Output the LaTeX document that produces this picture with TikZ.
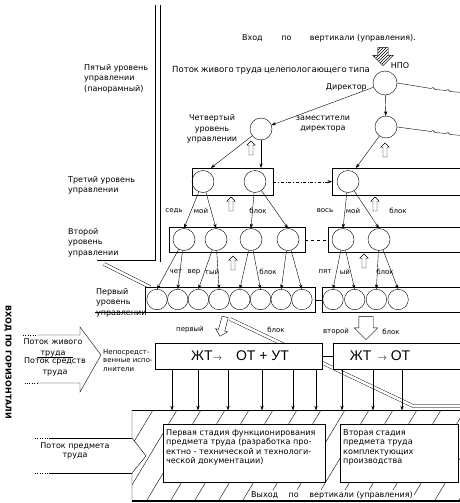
\documentclass[tikz,border=0pt]{standalone}
\usepackage{fontspec}
\setmainfont{DejaVu Sans}
\newfontfamily\boxfont{Liberation Sans}
\usetikzlibrary{shapes,shapes.arrows,arrows.meta,positioning,calc,patterns}

\begin{document}
\begin{tikzpicture}[
    x=1pt, y=-1pt,
    >={Stealth[length=4.5pt,width=3.2pt]},
    unitc/.style={circle, draw, minimum size=22pt, inner sep=0},
    cellc/.style={circle, draw, minimum size=20.5pt, inner sep=0},
    lvlbox/.style={draw, fill=white, inner sep=0, anchor=north west},
    lbl/.style={font=\fontsize{8}{10.5}\selectfont, inner sep=0},
    smalllbl/.style={font=\fontsize{7}{8.5}\selectfont, inner sep=0},
    upar/.style={single arrow, draw, fill=white, rotate=90, minimum height=14pt,
        inner sep=1.8pt, single arrow head extend=2.2pt},
    dnar/.style={single arrow, draw, fill=white},
    flow/.style={double, double distance=2.6pt},
    link/.style={->}
]
\useasboundingbox (0,0) rectangle (460,503);

    % Left panel
    \draw[thick] (155,5) -- (155,260) -- (97,260);
    \draw (160,5) -- (160,262);
    \draw[flow] (104,264) -- (150,287);

    % Top texts
    \node[lbl] (vin) at (329,38) {Вход \qquad по \qquad вертикали (управления).};
    \node[lbl, anchor=west, font=\fontsize{8.5}{10.5}\selectfont] (lflow) at (172,70)
        {\makebox[186pt][s]{Поток живого труда целепологающего типа}};
    \node[lbl, anchor=north west, align=left] (lev5) at (84,64) {Пятый уровень\\ управлении\\ (панорамный)};
    \node[single arrow, draw, rotate=-90, minimum height=18pt, inner sep=5pt,
        single arrow head extend=5pt, pattern=north east lines] (hin) at (383,54) {};
    \node[lbl] (npo) at (400,66) {НПО};

    % Fifth and fourth level
    \node[unitc, minimum size=24pt] (dir) at (385,83) {};
    \node[lbl, anchor=east] (dirlab) at (367,87) {Директор};
    \node[unitc] (dep) at (386,127) {};
    \node[lbl, align=center] (deplab) at (323,124) {заместители\\директора};
    \node[unitc] (fourth) at (261,129) {};
    \node[lbl, align=center] (lev4) at (212,129) {Четвертый\\уровень\\управлении};
    \draw[link] (dir) -- (fourth);
    \draw[link] (dir) -- (dep);
    \draw (dir.east) -- (431,88.5) -- (433,87.5) -- (435,89.5) -- (446,90.5) -- (448,89.5) -- (450,91.5) -- (462,92.5);
    \draw (dep.east) -- (431,131.5) -- (433,130.5) -- (435,132.5) -- (446,133.5) -- (448,132.5) -- (450,134.5) -- (462,135.5);
    \node[upar] (up4l) at (251,149) {};
    \node[upar] (up4r) at (385,151) {};

    % Third level
    \node[lbl, anchor=north west, align=left] (lev3) at (68,176) {Третий уровень\\ управлении};
    \node[lvlbox, minimum width=81pt, minimum height=27pt] (b3l) at (192,168) {};
    \node[lvlbox, minimum width=130pt, minimum height=27pt] (b3r) at (332,168) {};
    \node[unitc] (l3a) at (203,181.5) {};
    \node[unitc] (l3b) at (255,181.5) {};
    \node[unitc] (l3c) at (348,181.5) {};
    \draw[link] (fourth) -- (l3a.north east |- b3l.north);
    \draw[link] (fourth) -- (fourth |- b3l.north);
    \draw[link] (dep) -- (l3c.north east |- b3r.north);
    \draw[link, dash dot] (b3l.east) -- (b3r.west);

    % Second level
    \node[lbl, anchor=north west, align=left] (lev2) at (68,228) {Второй\\уровень\\управлении};
    \node[lvlbox, minimum width=136pt, minimum height=25pt] (b2l) at (169,227) {};
    \node[lvlbox, minimum width=134pt, minimum height=25pt] (b2r) at (328,227) {};
    \foreach \n/\x in {a/184,b/216,c/251,d/288,e/343,f/379}
        \node[unitc] (l2\n) at (\x,239.5) {};
    \draw[dashed] (b2l.east) -- (b2r.west);
    \foreach \s/\t in {l3a/l2a,l3a/l2b,l3b/l2c,l3b/l2d,l3c/l2e,l3c/l2f}
        \draw[link] (\s) -- (\t.north);
    \node[smalllbl] (t7a) at (174,211) {седь};
    \node[smalllbl] (t7b) at (201,211) {мой};
    \node[smalllbl] (t7c) at (258,211) {блок};
    \node[smalllbl] (t8a) at (325,211) {вось};
    \node[smalllbl] (t8b) at (353,211) {мой};
    \node[smalllbl] (t8c) at (398,211) {блок};
    \node[upar] (up3l) at (231,205) {};
    \node[upar] (up3r) at (375,205) {};

    % First level
    \node[lbl, anchor=north west, align=left] (lev1) at (96,288) {Первый\\уровень\\управлении};
    \node[lvlbox, minimum width=170pt, minimum height=25pt] (b1l) at (145,287) {};
    \node[lvlbox, minimum width=140pt, minimum height=25pt] (b1r) at (322,287) {};
    \draw (b1l.south west) -- ++(-50,0);
    \draw (b1l.east) -- (b1r.west);
    \foreach \i in {1,...,8} {
        \pgfmathsetmacro{\x}{157 + (\i-1)*20.7}
        \node[cellc] (p\i) at (\x,299.5) {};
    }
    \foreach \i in {1,...,4} {
        \pgfmathsetmacro{\x}{333 + (\i-1)*21.7}
        \node[cellc] (q\i) at (\x,299.5) {};
    }
    \foreach \s/\t in {l2a/p1,l2a/p2,l2b/p3,l2b/p4,l2c/p5,l2c/p6,l2d/p7,l2d/p8,l2e/q1,l2e/q2,l2f/q3,l2f/q4}
        \draw[link] (\s) -- (\t.north);
    \node[smalllbl] (t4a) at (176,272) {чет};
    \node[smalllbl] (t4b) at (194,272) {вер};
    \node[smalllbl] (t4c) at (212,272) {тый};
    \node[smalllbl] (t4d) at (268,272) {блок};
    \node[smalllbl] (t5a) at (325,272) {пят};
    \node[smalllbl] (t5b) at (345,272) {ый};
    \node[smalllbl] (t5c) at (385,272) {блок};
    \node[upar] (up2l) at (233,264) {};
    \node[upar] (up2r) at (364,262) {};

    % Blocks of executors
    \coordinate (fl0) at (230,319);
    \coordinate (fl1) at (413,406);
    \draw[flow] (fl0) -- (fl1) -- (462,406);
    \node[dnar, rotate=-105, minimum height=20pt, inner sep=3pt, single arrow head extend=3pt] (dnl) at (223,325) {};
    \node[dnar, rotate=-90, minimum height=23pt, inner sep=7pt, single arrow head extend=4.5pt] (dnr) at (366,324.5) {};
    \node[smalllbl] (bl1a) at (190,330) {первый};
    \node[smalllbl] (bl1b) at (276,330) {блок};
    \node[smalllbl] (bl2a) at (336,332) {второй};
    \node[smalllbl] (bl2b) at (391,332) {блок};
    \node[lvlbox, minimum width=167pt, minimum height=26pt] (zt1) at (155,343) {};
    \node[lvlbox, minimum width=130pt, minimum height=26pt] (zt2) at (333,343) {};
    \draw (zt1.east) -- (zt2.west);
    \node[font=\boxfont\fontsize{14}{16}\selectfont] (zt1txt) at (240,356) {ЖТ{\small$\to$}\quad ОТ + УТ};
    \node[font=\boxfont\fontsize{14}{16}\selectfont] (zt2txt) at (380,356) {ЖТ \,{\small$\to$} ОТ};
    \foreach \dx in {17,43,73,107,138,161}
        \draw[link] ([xshift=\dx pt]zt1.south west) -- ++(0,41);
    \foreach \dx in {9,40,69}
        \draw[link] ([xshift=\dx pt]zt2.south west) -- ++(0,41);

    % Horizontal input
    \node[rotate=-90, anchor=west, font=\bfseries\fontsize{8}{8}\selectfont, inner sep=0] (hin2) at (8,305) {ВХОД ПО ГОРИЗОНТАЛИ};
    \draw[dotted] (23,335) -- (37,335);
    \draw (37,335) -- (80,335) -- (80,327) -- (101,355) -- (80,392) -- (80,383) -- (37,383);
    \draw[dotted] (37,383) -- (23,383);
    \draw (37,357) -- (73,357);
    \node[lbl, align=center] (livlab) at (53,348) {Поток живого\\труда};
    \node[lbl, align=center] (meanlab) at (55,367) {Поток средств\\труда};
    \node[smalllbl, anchor=north west, align=left] (direct) at (103,349) {Непосредст-\\венные испо-\\лнители};

    % Object of labour
    \begin{scope}
        \clip (132,410) -- (462,410) -- (462,501) -- (132,501) -- (132,473) -- (146,456) -- (132,438) -- cycle;
        \foreach \k in {0,...,16}
            \draw (72+24*\k,505) -- ++(60,-100);
    \end{scope}
    \draw (132,410) -- (462,410);
    \draw (132,410) -- (132,438) -- (146,456) -- (132,473) -- (132,501);
    \draw[line width=1.6pt] (132,501) -- (462,501);
    \draw[dotted] (35,438) -- (50,438);
    \draw (50,438) -- (132,438);
    \draw[dotted] (35,473) -- (50,473);
    \draw (50,473) -- (132,473);
    \node[lbl, align=center, font=\fontsize{8}{9}\selectfont] (objlab) at (75,451) {Поток предмета\\труда};
    \node[lvlbox, minimum width=162pt, minimum height=58pt] (stA) at (163,424) {};
    \node[lvlbox, minimum width=118pt, minimum height=58pt] (stB) at (340,424) {};
    \node[lbl, anchor=north west, align=left, font=\fontsize{8.1}{9.5}\selectfont] (stAtxt) at (166,429)
        {Первая стадия функционирования\\предмета труда (разработка про-\\ектно - технической и технологи-\\ческой документации)};
    \node[lbl, anchor=north west, align=left, font=\fontsize{8.1}{9.5}\selectfont] (stBtxt) at (343,429)
        {Вторая стадия\\предмета труда\\ комплектующих\\производства};
    \node[lbl, fill=white, inner sep=1pt] (vout) at (332,495) {Выход \quad по \quad вертикали (управления)};
\end{tikzpicture}
\end{document}
